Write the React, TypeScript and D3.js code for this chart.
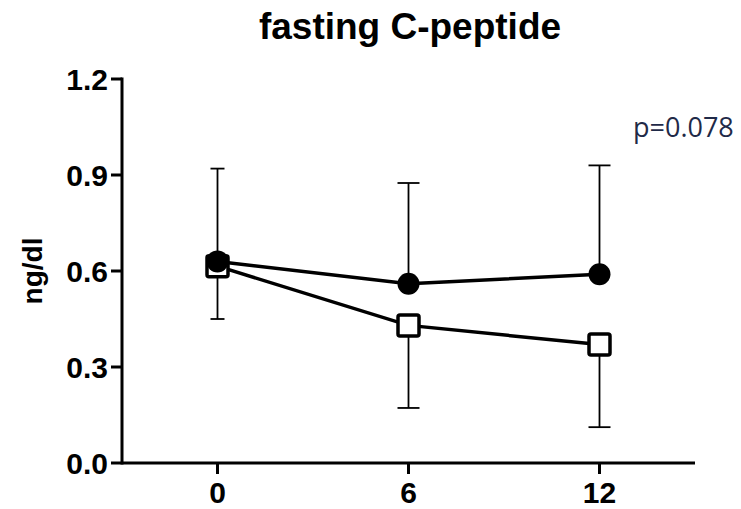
import React from "react";
import * as d3 from "d3";

const timepoints = [0, 6, 12];
const circleMeans = [0.63, 0.56, 0.59];
const circleUpper = [0.92, 0.875, 0.93];
const squareMeans = [0.615, 0.43, 0.37];
const squareLower = [0.45, 0.172, 0.112];
const yTicks = [0, 0.3, 0.6, 0.9, 1.2];
const xTicks = [0, 6, 12];
const title = "fasting C-peptide";
const yLabel = "ng/dl";
const pLabel = "p=0.078";

export default function App() {
  const W = 741, H = 509;
  const x = d3.scaleLinear().domain([-3, 15]).range([122, 695]);
  const y = d3.scaleLinear().domain([0, 1.2]).range([463, 79]);
  const line = d3.line<number>().x((_, i) => x(timepoints[i])).y((d) => y(d));
  const capW = (i: number) => (i === 0 ? 14 : 22);
  const font = "'Liberation Sans', Arial, Helvetica, sans-serif";

  return (
    <svg width={W} height={H} style={{ position: "absolute", left: 0, top: 0 }}>
      <rect width={W} height={H} fill="#fff" />
      <text x={410} y={39} textAnchor="middle" fontFamily={font} fontWeight="bold" fontSize={37}>
        {title}
      </text>
      {/* axes */}
      <line x1={x(-3)} x2={x(-3)} y1={y(1.2) - 1.5} y2={y(0) + 1.5} stroke="#000" strokeWidth={3} />
      <line x1={x(-3)} x2={x(15)} y1={y(0)} y2={y(0)} stroke="#000" strokeWidth={3} />
      {yTicks.map((t) => (
        <g key={"y" + t}>
          <line x1={x(-3) - 11} x2={x(-3)} y1={y(t)} y2={y(t)} stroke="#000" strokeWidth={3} />
          <text x={x(-3) - 14} y={y(t)} dy="0.36em" textAnchor="end" fontFamily={font} fontWeight="bold" fontSize={30}>
            {t.toFixed(1)}
          </text>
        </g>
      ))}
      {xTicks.map((t) => (
        <g key={"x" + t}>
          <line x1={x(t)} x2={x(t)} y1={y(0)} y2={y(0) + 11} stroke="#000" strokeWidth={3} />
          <text x={x(t)} y={503} textAnchor="middle" fontFamily={font} fontWeight="bold" fontSize={30}>
            {t}
          </text>
        </g>
      ))}
      <text
        transform={`translate(42,${y(0.6)}) rotate(-90)`}
        textAnchor="middle"
        fontFamily={font}
        fontWeight="bold"
        fontSize={28}
      >
        {yLabel}
      </text>
      <text x={633} y={137} fontFamily="'Open Sans', 'Noto Sans', sans-serif" fontSize={27} fill="#1f2a48">
        {pLabel}
      </text>
      {/* error bars */}
      {timepoints.map((t, i) => (
        <g key={"e" + t} stroke="#000" strokeWidth={1.8}>
          <line x1={x(t)} x2={x(t)} y1={y(circleMeans[i])} y2={y(circleUpper[i])} />
          <line x1={x(t) - capW(i) / 2} x2={x(t) + capW(i) / 2} y1={y(circleUpper[i])} y2={y(circleUpper[i])} />
          <line x1={x(t)} x2={x(t)} y1={y(squareMeans[i])} y2={y(squareLower[i])} />
          <line x1={x(t) - capW(i) / 2} x2={x(t) + capW(i) / 2} y1={y(squareLower[i])} y2={y(squareLower[i])} />
        </g>
      ))}
      {/* lines */}
      <path d={line(circleMeans) || ""} fill="none" stroke="#000" strokeWidth={3.5} />
      <path d={line(squareMeans) || ""} fill="none" stroke="#000" strokeWidth={3.5} />
      {/* markers */}
      {squareMeans.map((v, i) => (
        <rect
          key={"s" + i}
          x={x(timepoints[i]) - 10.5}
          y={y(v) - 10.5}
          width={21}
          height={21}
          rx={2}
          fill="#fff"
          stroke="#000"
          strokeWidth={3.5}
        />
      ))}
      {circleMeans.map((v, i) => (
        <circle key={"c" + i} cx={x(timepoints[i])} cy={y(v)} r={11} fill="#000" />
      ))}
    </svg>
  );
}
